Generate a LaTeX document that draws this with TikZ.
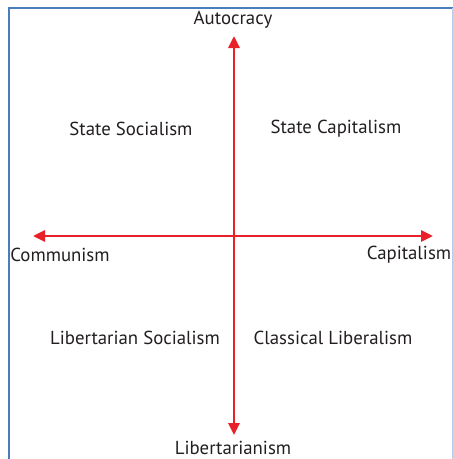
\documentclass[tikz,border=0pt]{standalone}
\usepackage{fontspec}
\setmainfont{PT Sans}
\usetikzlibrary{arrows.meta}
\definecolor{axisred}{HTML}{E8202A}
\definecolor{frameblue}{HTML}{4A7CC0}
\definecolor{textgray}{HTML}{231F20}
\tikzset{
  axis/.style={axisred, line width=2.8pt, -{Triangle[length=12pt,width=11pt]}},
  lbl/.style={text=textgray, font=\fontsize{18.8}{20}\selectfont, inner sep=0pt},
}
\begin{document}
\begin{tikzpicture}[x=1pt,y=-1pt]
\useasboundingbox (0,0) rectangle (453,459);
\fill[white] (0,0) rectangle (453,459);
\draw[frameblue, line width=2pt] (9,470) -- (9,8) -- (453,8);
\draw[frameblue!40, line width=1pt] (452,8) -- (452,470);
\coordinate (c) at (234,236);
\coordinate (top) at (234,36);
\coordinate (bot) at (234,435);
\coordinate (left) at (33,236);
\coordinate (right) at (433,236);
\draw[axis] (c) -- (top);
\draw[axis] (c) -- (bot);
\draw[axis] (c) -- (left);
\draw[axis] (c) -- (right);
\node[lbl] (auto) at (233,19.5) {Autocracy};
\node[lbl] (ss) at (131,129) {State Socialism};
\node[lbl] (sc) at (336,129) {State Capitalism};
\node[lbl] (com) at (60,254.5) {Communism};
\node[lbl] (cap) at (409,254.5) {Capitalism};
\node[lbl] (ls) at (135,337.5) {Libertarian Socialism};
\node[lbl] (cl) at (333,337.5) {Classical Liberalism};
\node[lbl] (lib) at (233,448) {Libertarianism};
\end{tikzpicture}
\end{document}
